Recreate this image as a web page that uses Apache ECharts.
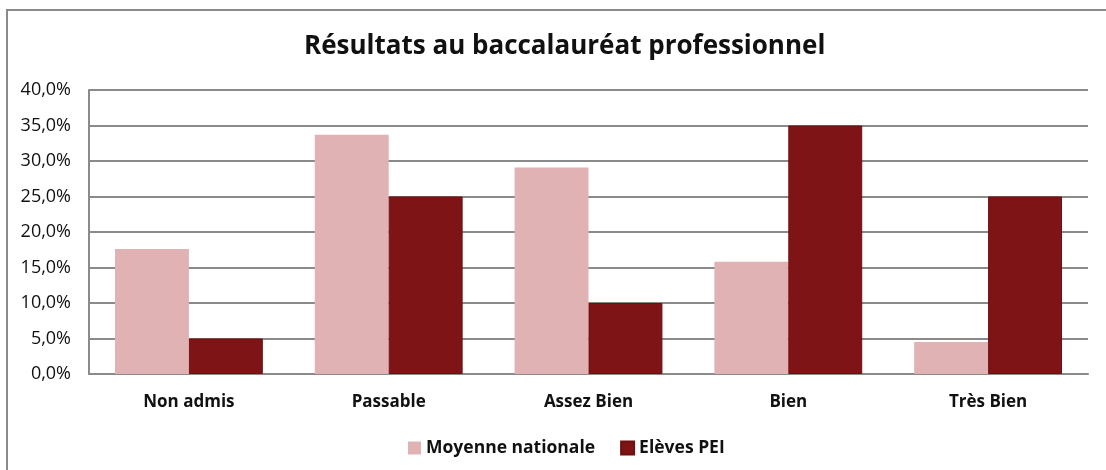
<!DOCTYPE html>
<html>
<head>
<meta charset="utf-8">
<script src="https://cdn.jsdelivr.net/npm/echarts@6/dist/echarts.min.js"></script>
<style>
  html, body { margin: 0; padding: 0; background: #fff; }
  #chart { width: 1106px; height: 470px; }
</style>
</head>
<body>
<div id="chart"></div>
<script>
var categories = ['Non admis', 'Passable', 'Assez Bien', 'Bien', 'Très Bien'];
var moyenneNationale = [17.6, 33.7, 29.1, 15.8, 4.5];
var elevesPEI = [5.0, 25.0, 10.0, 35.0, 25.0];
var seriesNames = ['Moyenne nationale', 'Elèves PEI'];

var font = '"Open Sans", "Liberation Sans", sans-serif';

var option = {
    backgroundColor: '#ffffff',
    animation: false,
    color: ['#e0b2b3', '#7f1416'],
    title: {
        text: 'Résultats au baccalauréat professionnel',
        left: 299,
        top: 29,
        textStyle: {
            fontFamily: font,
            fontSize: 26,
            fontWeight: 'bold',
            color: '#111'
        }
    },
    graphic: [{
        type: 'rect',
        shape: { x: 7, y: 10, width: 1120, height: 480 },
        style: { fill: 'none', stroke: '#8a8a8a', lineWidth: 2 },
        silent: true
    }],
    legend: {
        bottom: 8,
        left: 403,
        icon: 'rect',
        itemWidth: 13,
        itemHeight: 13,
        itemGap: 25,
        data: seriesNames,
        textStyle: {
            fontFamily: font,
            fontSize: 17.5,
            fontWeight: 'bold',
            color: '#111'
        }
    },
    grid: {
        left: 89,
        right: 18,
        top: 90,
        bottom: 96
    },
    xAxis: {
        type: 'category',
        data: categories,
        axisTick: { show: false },
        axisLine: { lineStyle: { color: '#8a8a8a', width: 2 } },
        axisLabel: {
            margin: 20,
            fontFamily: font,
            fontSize: 17,
            fontWeight: 'bold',
            color: '#111'
        }
    },
    yAxis: {
        type: 'value',
        min: 0,
        max: 40,
        interval: 5,
        axisLine: { show: true, lineStyle: { color: '#8a8a8a', width: 2 } },
        axisTick: { show: false },
        splitLine: { lineStyle: { color: '#8a8a8a', width: 2 } },
        axisLabel: {
            margin: 18,
            fontFamily: font,
            fontSize: 18,
            color: '#111',
            formatter: function (v) { return v.toFixed(1).replace('.', ',') + '%'; }
        }
    },
    series: [
        {
            name: seriesNames[0],
            type: 'bar',
            data: moyenneNationale,
            barGap: '0%',
            barCategoryGap: '26%'
        },
        {
            name: seriesNames[1],
            type: 'bar',
            data: elevesPEI,
            itemStyle: { borderColor: '#6e0f11', borderWidth: 1 }
        }
    ]
};

var chart = echarts.init(document.getElementById('chart'));
chart.setOption(option);
</script>
</body>
</html>
